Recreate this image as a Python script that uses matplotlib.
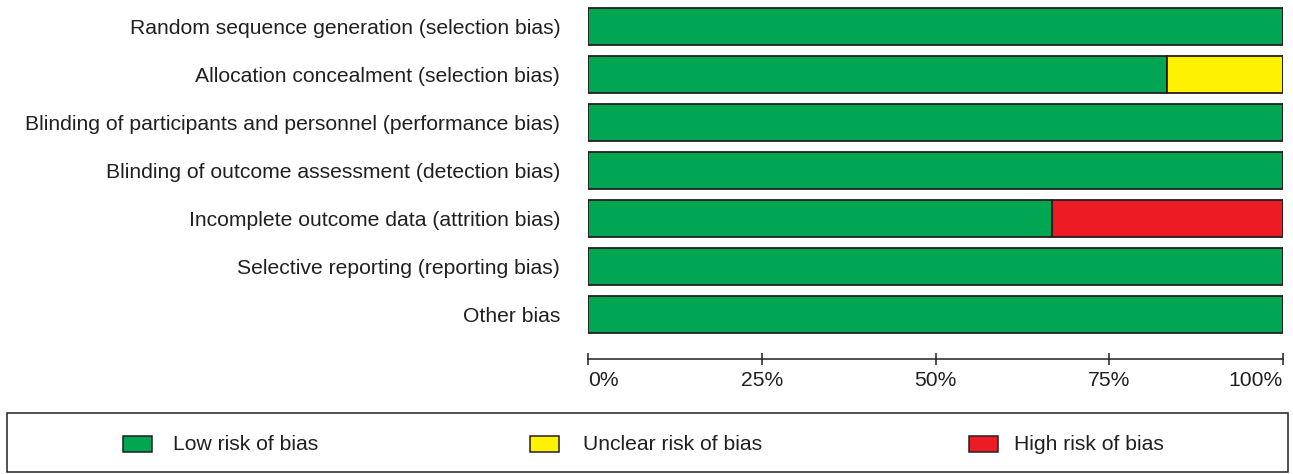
import matplotlib
matplotlib.use("Agg")

import matplotlib.pyplot as plt
from matplotlib.patches import Rectangle

plt.rcParams["font.family"] = ["Liberation Sans", "DejaVu Sans"]

# risk of bias domains (top to bottom)
domains = [
    "Random sequence generation (selection bias)",
    "Allocation concealment (selection bias)",
    "Blinding of participants and personnel (performance bias)",
    "Blinding of outcome assessment (detection bias)",
    "Incomplete outcome data (attrition bias)",
    "Selective reporting (reporting bias)",
    "Other bias",
]
low_risk = [100, 83.3, 100, 100, 66.7, 100, 100]
unclear_risk = [0, 16.7, 0, 0, 0, 0, 0]
high_risk = [0, 0, 0, 0, 33.3, 0, 0]

tick_vals = [0, 25, 50, 75, 100]
tick_labels = ["0%", "25%", "50%", "75%", "100%"]

legend_labels = ["Low risk of bias", "Unclear risk of bias", "High risk of bias"]
colors = ["#00A651", "#FFF200", "#ED1C24"]

W, H = 1293, 474
fig = plt.figure(figsize=(W / 100, H / 100), dpi=100)

# axes placed in pixel terms
ax = fig.add_axes([588 / W, 1 - 359 / H, 695 / W, 359 / H])

ypos = list(range(len(domains)))
left = [0] * len(domains)
for vals, col in zip([low_risk, unclear_risk, high_risk], colors):
    ax.barh(ypos, vals, left=left, height=0.77, color=col,
            edgecolor="#231F20", linewidth=1.3)
    left = [a + b for a, b in zip(left, vals)]

ax.set_xlim(0, 100)
ax.set_ylim(len(domains) - 1 + 0.927, -0.552)
ax.set_yticks(ypos)
ax.set_yticklabels(domains, fontsize=15.2, color="#231F20")
ax.tick_params(axis="y", length=0, pad=20)

ax.set_xticks(tick_vals)
ax.set_xticklabels(tick_labels, fontsize=15.2, color="#231F20")
ax.tick_params(axis="x", direction="inout", length=9, width=1.1,
               color="#231F20", pad=4)
xt = ax.get_xticklabels()
xt[0].set_ha("left")
xt[-1].set_ha("right")

for s in ["left", "top", "right"]:
    ax.spines[s].set_visible(False)
ax.spines["bottom"].set_linewidth(1.1)
ax.spines["bottom"].set_color("#231F20")

# legend box
fig.patches.append(Rectangle((7 / W, 1 - 472 / H), 1281 / W, 59 / H,
                             transform=fig.transFigure, fill=False,
                             edgecolor="#231F20", linewidth=1.1))
patch_x = [123, 530, 969]
text_x = [173, 583, 1014]
ly = 444
for px, tx, lab, col in zip(patch_x, text_x, legend_labels, colors):
    fig.patches.append(Rectangle((px / W, 1 - (ly + 8) / H), 29 / W, 16 / H,
                                 transform=fig.transFigure, facecolor=col,
                                 edgecolor="#231F20", linewidth=1.1))
    fig.text(tx / W, 1 - ly / H, lab, fontsize=15.2, color="#231F20",
             ha="left", va="center")

fig.savefig("out.png", dpi=100)
